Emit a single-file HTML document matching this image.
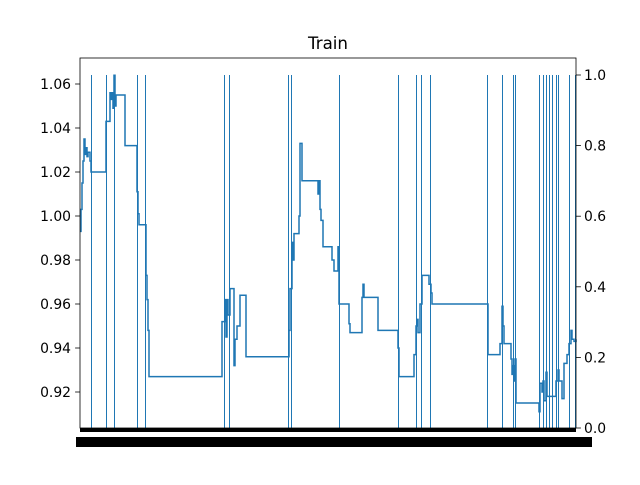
<!DOCTYPE html>
<html><head><meta charset="utf-8"><style>
body{margin:0;background:#fff;}
svg text{font-family:"DejaVu Sans","Liberation Sans",sans-serif;font-size:13.9px;fill:#000;}
</style></head><body>
<svg id="c" width="640" height="480">
<rect width="640" height="480" fill="#fff"/>
<text x="328" y="49" text-anchor="middle" style="font-size:16.7px">Train</text>
<g id="vl"></g><g id="ln"></g>
<rect x="80" y="58" width="496" height="370" fill="none" stroke="#000" stroke-width="0.8"/>
<rect x="80" y="428" width="496" height="4" fill="#000"/>
<rect x="76" y="437" width="516" height="10" fill="#000"/>
<g id="ax"></g>
</svg>
<script>
const steps=[0,1,2,3,4,5,6,7,8,10,11,26,30,31,32,33,34,35,36,45,57,58,59,66,67,68,69,142,145,146,147,148,150,154,155,157,160,166,209,210,212,213,214,219,220,222,238,239,240,241,243,252,254,258,259,269,270,282,283,284,298,318,319,334,336,337,338,340,342,349,351,352,408,420,422,423,424,431,432,433,434,435,436,459,460,462,463,464,466,467,476,478,479,482,484,487,489,491,492,494,496];
const values=[0.993,1.003,1.015,1.025,1.035,1.028,1.031,1.027,1.029,1.025,1.020,1.043,1.056,1.053,1.056,1.049,1.064,1.050,1.055,1.032,1.011,1.001,0.996,0.973,0.962,0.948,0.927,0.952,0.962,0.945,0.962,0.955,0.967,0.932,0.944,0.950,0.964,0.936,0.948,0.967,0.988,0.980,0.992,1.000,1.033,1.016,1.010,1.016,1.003,0.998,0.986,0.980,0.975,0.986,0.960,0.951,0.947,0.963,0.969,0.963,0.948,0.940,0.927,0.937,0.950,0.953,0.947,0.960,0.973,0.969,0.965,0.960,0.937,0.942,0.959,0.950,0.942,0.935,0.928,0.932,0.925,0.935,0.915,0.911,0.924,0.920,0.925,0.916,0.929,0.918,0.925,0.930,0.925,0.917,0.933,0.937,0.942,0.948,0.944,0.943,0.944];
const events=[11,26,34,57,65,144,149,208,211,259,318,336,341,350,407,422,433,435,459,463,466,469,472,476,478,489,495];
const leftTicks=[0.92,0.94,0.96,0.98,1.00,1.02,1.04,1.06];
const rightTicks=[0.0,0.2,0.4,0.6,0.8,1.0];
const NS="http://www.w3.org/2000/svg";
const X=s=>80+s/496*496, Y=v=>392-(v-0.92)/0.02*44, YR=v=>428-v*353;
function mk(t,a,p){const e=document.createElementNS(NS,t);for(const k in a)e.setAttribute(k,a[k]);p.appendChild(e);return e;}
const vl=document.getElementById('vl');
events.forEach(s=>{const l=mk('line',{x1:X(s)+0.5,x2:X(s)+0.5,y1:YR(1),y2:YR(0),stroke:'#1f77b4','stroke-width':1},vl);

});
const n=Math.min(steps.length,values.length);
let d='';
for(let i=0;i<n;i++){
 if(i===0)d+='M'+X(steps[0])+','+Y(values[0]);
 else d+='H'+X(steps[i])+'V'+Y(values[i]);
}
d+='H'+X(496);
const p=mk('path',{d:d,fill:'none',stroke:'#1f77b4','stroke-width':1.5},document.getElementById('ln'));


const ax=document.getElementById('ax');
leftTicks.forEach(v=>{mk('line',{x1:75.1,x2:80,y1:Y(v),y2:Y(v),stroke:'#000','stroke-width':0.8},ax);
const t=mk('text',{x:71,y:Y(v)+5,'text-anchor':'end'},ax);t.textContent=v.toFixed(2);

});
rightTicks.forEach(v=>{mk('line',{x1:576,x2:580.9,y1:YR(v),y2:YR(v),stroke:'#000','stroke-width':0.8},ax);
const t=mk('text',{x:584,y:YR(v)+5},ax);t.textContent=v.toFixed(1);

});
</script>
</body></html>
